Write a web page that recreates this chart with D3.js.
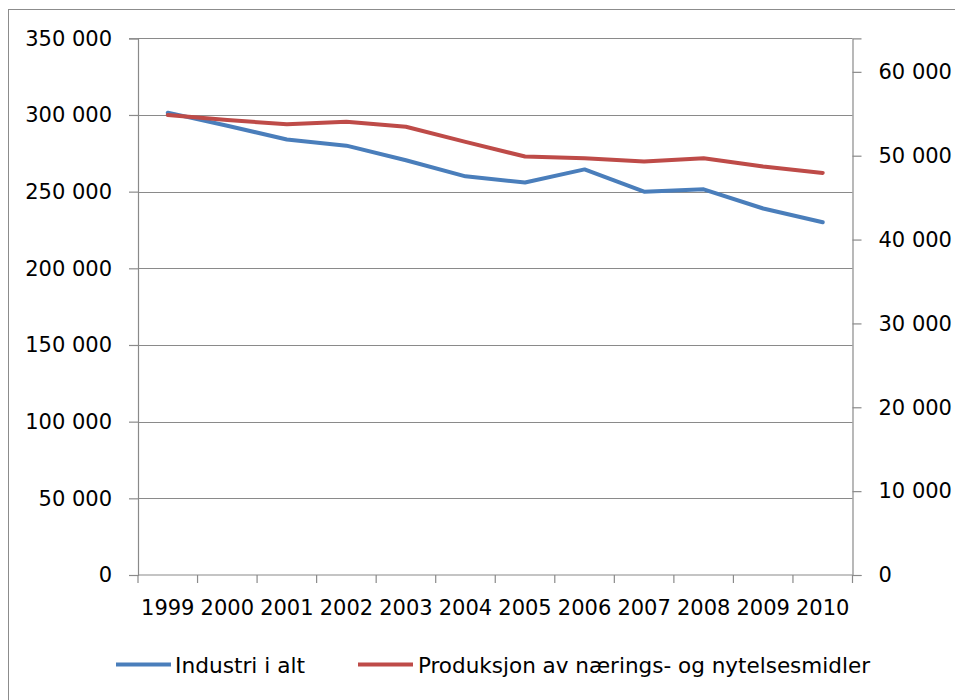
<!DOCTYPE html>
<html><head><meta charset="utf-8">
<script src="https://cdn.jsdelivr.net/npm/d3@7"></script>
<style>body{margin:0;background:#fff}svg{display:block}</style>
</head><body>
<svg id="c" width="955" height="700"></svg>
<script>
const years = ["1999","2000","2001","2002","2003","2004","2005","2006","2007","2008","2009","2010"];
const industri = [301500,293000,284000,280000,270500,260000,256000,264500,250000,251500,239000,230000];
const produksjon = [54850,54250,53750,54050,53450,51650,49900,49700,49300,49700,48700,47950];
const leftTicks = [0,50000,100000,150000,200000,250000,300000,350000];
const rightTicks = [0,10000,20000,30000,40000,50000,60000];
const seriesNames = ["Industri i alt","Produksjon av nærings- og nytelsesmidler"];
const colors = ["#4A7EBB","#BE4B48"];

const svg = d3.select("#c");
const L = 138, R = 852.5, T = 38.3, B = 575;
const fmt = v => d3.format(",")(v).replace(/,/g," ");
const font = "'DejaVu Sans', sans-serif";

svg.append("rect").attr("x",8.5).attr("y",9.5).attr("width",960).attr("height",700)
  .attr("fill","none").attr("stroke","#8c8c8c").attr("stroke-width",1);

const x = d3.scaleBand().domain(years).range([L,R]);
const yL = d3.scaleLinear().domain([0,350000]).range([B,T]);
const yR = d3.scaleLinear().domain([0,64000]).range([B,T]);

// gridlines
svg.append("g").selectAll("line").data(leftTicks.filter(d=>d>0)).join("line")
  .attr("x1",L).attr("x2",R).attr("y1",d=>Math.round(yL(d))+0.5).attr("y2",d=>Math.round(yL(d))+0.5)
  .attr("stroke","#8a8a8a").attr("stroke-width",1.2);

const axStyle = g => {
  g.selectAll(".domain").attr("stroke","#8a8a8a").attr("stroke-width",1.2);
  g.selectAll(".tick line").attr("stroke","#8a8a8a").attr("stroke-width",1.2);
  g.selectAll("text").attr("font-family",font).attr("font-size",21).attr("fill","#000");
};

svg.append("g").attr("transform",`translate(${L},0)`)
  .call(d3.axisLeft(yL).tickValues(leftTicks).tickFormat(fmt).tickSizeOuter(0).tickSize(9).tickPadding(17))
  .call(axStyle);
svg.append("g").attr("transform",`translate(${R},0)`)
  .call(d3.axisRight(yR).tickValues(rightTicks).tickFormat(fmt).tickSizeOuter(0).tickSize(9).tickPadding(17))
  .call(axStyle);

// x axis with ticks at category boundaries
const xg = svg.append("g").attr("transform",`translate(0,${B})`);
xg.append("line").attr("x1",L).attr("x2",R).attr("y1",0).attr("y2",0).attr("stroke","#8a8a8a").attr("stroke-width",1.2);
const bounds = years.map(d=>x(d)).concat([R]);
xg.selectAll("line.t").data(bounds).join("line").attr("class","t")
  .attr("x1",d=>d).attr("x2",d=>d).attr("y1",0).attr("y2",8).attr("stroke","#8a8a8a").attr("stroke-width",1.2);
xg.selectAll("text").data(years).join("text")
  .attr("x",d=>x(d)+x.bandwidth()/2).attr("y",40).attr("text-anchor","middle")
  .attr("font-family",font).attr("font-size",21).attr("fill","#000").text(d=>d);

// lines
const lineL = d3.line().x((d,i)=>x(years[i])+x.bandwidth()/2).y(d=>yL(d));
const lineR = d3.line().x((d,i)=>x(years[i])+x.bandwidth()/2).y(d=>yR(d));
svg.append("path").attr("d",lineL(industri)).attr("fill","none").attr("stroke",colors[0]).attr("stroke-width",4).attr("stroke-linejoin","round").attr("stroke-linecap","round");
svg.append("path").attr("d",lineR(produksjon)).attr("fill","none").attr("stroke",colors[1]).attr("stroke-width",4).attr("stroke-linejoin","round").attr("stroke-linecap","round");

// legend
const leg = [{x1:116,x2:171,tx:175,tw:130},{x1:358,x2:413,tx:418,tw:452}];
leg.forEach((l,i)=>{
  svg.append("line").attr("x1",l.x1).attr("x2",l.x2).attr("y1",664.5).attr("y2",664.5).attr("stroke",colors[i]).attr("stroke-width",4);
  svg.append("text").attr("x",l.tx).attr("y",673).attr("font-family","'DejaVu Sans Condensed','Liberation Sans Narrow',sans-serif")
    .attr("font-size",21).attr("fill","#000").attr("textLength",l.tw).attr("lengthAdjust","spacingAndGlyphs").text(seriesNames[i]);
});
</script>
</body></html>
